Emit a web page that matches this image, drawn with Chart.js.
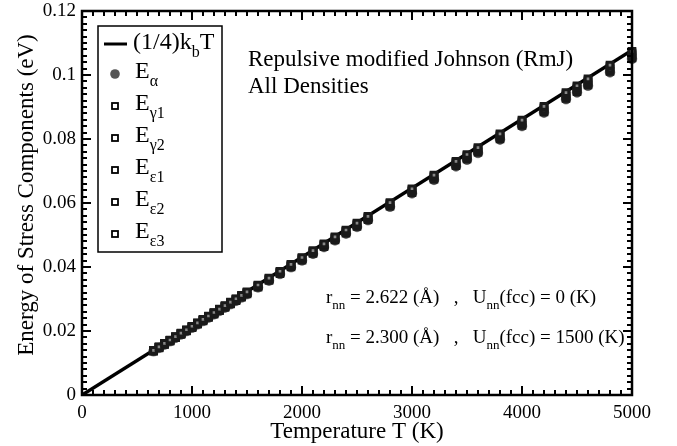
<!DOCTYPE html>
<html>
<head>
<meta charset="utf-8">
<script src="https://cdn.jsdelivr.net/npm/chart.js@4.4.1/dist/chart.umd.min.js"></script>
<style>
html,body{margin:0;padding:0;background:#fff;}
#wrap{width:677px;height:446px;position:relative;}
</style>
</head>
<body>
<div id="wrap"><canvas id="c" width="677" height="446"></canvas></div>
<script>
// ---- data ----
const temperatures = [650,700,750,800,850,900,950,1000,1050,1100,1150,1200,1250,1300,1350,1400,1450,1500,1600,1700,1800,1900,2000,2100,2200,2300,2400,2500,2600,2800,3000,3200,3400,3500,3600,3800,4000,4200,4400,4500,4600,4800,5000];
const lineT = [0, 5000];
const lineE = [0, 0.10772];
const eAlpha = [0.01365,0.01470,0.01575,0.01680,0.01785,0.01890,0.01995,0.02100,0.02205,0.02311,0.02416,0.02521,0.02626,0.02731,0.02836,0.02941,0.03046,0.03151,0.03361,0.03571,0.03781,0.03991,0.04201,0.04411,0.04621,0.04831,0.05041,0.05251,0.05461,0.05881,0.06301,0.06722,0.07142,0.07352,0.07562,0.07982,0.08402,0.08822,0.09242,0.09452,0.09662,0.10082,0.10502];
const eGamma1 = [0.01396,0.01503,0.01611,0.01718,0.01826,0.01933,0.02040,0.02148,0.02255,0.02363,0.02470,0.02578,0.02685,0.02792,0.02900,0.03007,0.03114,0.03222,0.03437,0.03651,0.03866,0.04081,0.04296,0.04510,0.04725,0.04940,0.05155,0.05370,0.05584,0.06014,0.06444,0.06873,0.07303,0.07517,0.07732,0.08162,0.08591,0.09021,0.09450,0.09665,0.09880,0.10310,0.10739];
const eGamma2 = [0.01391,0.01497,0.01604,0.01711,0.01818,0.01925,0.02032,0.02139,0.02246,0.02353,0.02460,0.02567,0.02674,0.02781,0.02888,0.02995,0.03102,0.03209,0.03423,0.03637,0.03851,0.04065,0.04279,0.04492,0.04706,0.04920,0.05134,0.05348,0.05562,0.05990,0.06418,0.06846,0.07273,0.07487,0.07701,0.08129,0.08557,0.08985,0.09413,0.09627,0.09841,0.10268,0.10696];
const eEps1 = [0.01379,0.01485,0.01591,0.01698,0.01804,0.01910,0.02016,0.02122,0.02228,0.02334,0.02440,0.02546,0.02653,0.02759,0.02865,0.02971,0.03077,0.03183,0.03395,0.03607,0.03820,0.04032,0.04244,0.04456,0.04668,0.04881,0.05093,0.05305,0.05517,0.05942,0.06366,0.06790,0.07215,0.07427,0.07639,0.08064,0.08488,0.08912,0.09337,0.09549,0.09761,0.10186,0.10610];
const eEps2 = [0.01369,0.01475,0.01580,0.01686,0.01791,0.01896,0.02002,0.02107,0.02212,0.02318,0.02423,0.02528,0.02634,0.02739,0.02844,0.02950,0.03055,0.03160,0.03371,0.03582,0.03792,0.04003,0.04214,0.04425,0.04635,0.04846,0.05057,0.05267,0.05478,0.05899,0.06321,0.06742,0.07164,0.07374,0.07585,0.08006,0.08428,0.08849,0.09271,0.09481,0.09692,0.10113,0.10535];
const eEps3 = [0.01385,0.01491,0.01598,0.01705,0.01811,0.01918,0.02024,0.02131,0.02237,0.02344,0.02450,0.02557,0.02663,0.02770,0.02876,0.02983,0.03089,0.03196,0.03409,0.03622,0.03835,0.04048,0.04261,0.04474,0.04687,0.04900,0.05114,0.05327,0.05540,0.05966,0.06392,0.06818,0.07244,0.07457,0.07670,0.08096,0.08522,0.08949,0.09375,0.09588,0.09801,0.10227,0.10653];
const xTicks = [0,1000,2000,3000,4000,5000];
const yTicks = [0,0.02,0.04,0.06,0.08,0.1,0.12];
const xTickLabels = ['0','1000','2000','3000','4000','5000'];
const yTickLabels = ['0','0.02','0.04','0.06','0.08','0.1','0.12'];

const FONT = '"Liberation Serif", "Times New Roman", serif';
function pts(xs, ys){ return xs.map((x,i)=>({x:x,y:ys[i]})); }

// Inward ticks on all four sides + frame
const frameTicks = {
  id:'frameTicks',
  afterDatasetsDraw(chart){
    const {ctx, chartArea:a, scales:{x,y}} = chart;
    ctx.save();
    ctx.strokeStyle='#000';
    ctx.lineWidth=2;
    ctx.beginPath();
    for(let v=0; v<=5000; v+=100){
      const px=Math.round(x.getPixelForValue(v));
      const major = v%1000===0;
      const L = major?9:5;
      ctx.moveTo(px,a.bottom); ctx.lineTo(px,a.bottom-L);
      ctx.moveTo(px,a.top); ctx.lineTo(px,a.top+L);
    }
    for(let k=0;k<=60;k++){
      const v=k*0.002;
      const py=Math.round(y.getPixelForValue(v));
      const major = k%10===0;
      const L = major?9:5;
      ctx.moveTo(a.left,py); ctx.lineTo(a.left+L,py);
      ctx.moveTo(a.right,py); ctx.lineTo(a.right-L,py);
    }
    ctx.stroke();
    ctx.lineWidth=2.5;
    ctx.strokeRect(a.left,a.top,a.right-a.left,a.bottom-a.top);
    ctx.restore();
  }
};

function drawSub(ctx, x, yb, main, sub, after, size){
  ctx.font = size+'px '+FONT;
  ctx.fillText(main, x, yb);
  let w = ctx.measureText(main).width;
  ctx.font = Math.round(size*0.68)+'px '+FONT;
  ctx.fillText(sub, x+w, yb+Math.round(size*0.32));
  let w2 = ctx.measureText(sub).width;
  let end = x+w+w2;
  if(after){
    ctx.font = size+'px '+FONT;
    ctx.fillText(after, end, yb);
    end += ctx.measureText(after).width;
  }
  return end;
}

const legendNotes = {
  id:'legendNotes',
  afterDraw(chart){
    const ctx = chart.ctx;
    const a = chart.chartArea;
    ctx.save();
    ctx.fillStyle='#000';
    ctx.textBaseline='alphabetic';
    ctx.textAlign='left';
    // legend box
    ctx.strokeStyle='#000'; ctx.lineWidth=1.5;
    ctx.strokeRect(98,26,124,226);
    // line entry
    ctx.lineWidth=3;
    ctx.beginPath(); ctx.moveTo(104,44); ctx.lineTo(127,44); ctx.stroke();
    drawSub(ctx,133,49,'(1/4)k','b','T',24);
    const names = [['E','\u03b1'],['E','\u03b31'],['E','\u03b32'],['E','\u03b51'],['E','\u03b52'],['E','\u03b53']];
    for(let i=0;i<6;i++){
      const yb = 78 + i*32;
      const cy = yb - 4;
      if(i===0){
        ctx.fillStyle='#555';
        ctx.beginPath(); ctx.arc(115,cy,4.8,0,Math.PI*2); ctx.fill();
      } else {
        ctx.fillStyle='#fff'; ctx.strokeStyle='#000'; ctx.lineWidth=1.8;
        ctx.fillRect(112,cy-3,6,6); ctx.strokeRect(112,cy-3,6,6);
      }
      ctx.fillStyle='#000';
      drawSub(ctx,135,yb,names[i][0],names[i][1],'',24);
    }
    // annotations
    ctx.font='23px '+FONT;
    ctx.fillText('Repulsive modified Johnson (RmJ)',248,66);
    ctx.fillText('All Densities',248,93);
    const s=19;
    let e = drawSub(ctx,326,303,'r','nn',' = 2.622 (\u00c5)   ,   ',s);
    drawSub(ctx,e,303,'U','nn','(fcc) = 0 (K)',s);
    e = drawSub(ctx,326,343,'r','nn',' = 2.300 (\u00c5)   ,   ',s);
    drawSub(ctx,e,343,'U','nn','(fcc) = 1500 (K)',s);
    // y axis title
    ctx.save();
    ctx.translate(27, (a.top+a.bottom)/2 - 8);
    ctx.rotate(-Math.PI/2);
    ctx.textAlign='center'; ctx.textBaseline='middle';
    ctx.font='23px '+FONT;
    ctx.fillText('Energy of Stress Components (eV)',0,0);
    ctx.restore();
    ctx.restore();
  }
};

function sq(ds){ return Object.assign({type:'scatter', pointStyle:'rect', pointRadius:4, pointBackgroundColor:'#888', pointBorderColor:'#1a1a1a', pointBorderWidth:3, showLine:false, clip:false, order:1}, ds); }

new Chart(document.getElementById('c'), {
  type:'scatter',
  data:{
    datasets:[
      {label:'(1/4)kbT', type:'line', data:pts(lineT,lineE), borderColor:'#000', borderWidth:3.5, pointRadius:0, fill:false, order:10},
      {label:'Ealpha', type:'scatter', data:pts(temperatures,eAlpha), pointStyle:'circle', pointRadius:4.8, pointBackgroundColor:'#444', pointBorderColor:'#333', pointBorderWidth:0.5, clip:false, order:2},
      sq({label:'Eg1', data:pts(temperatures,eGamma1)}),
      sq({label:'Eg2', data:pts(temperatures,eGamma2)}),
      sq({label:'Ee1', data:pts(temperatures,eEps1)}),
      sq({label:'Ee2', data:pts(temperatures,eEps2)}),
      sq({label:'Ee3', data:pts(temperatures,eEps3)})
    ]
  },
  options:{
    responsive:false, animation:false,
    layout:{padding:{top:11,right:45,left:0,bottom:0}},
    plugins:{legend:{display:false}, tooltip:{enabled:false}},
    scales:{
      x:{type:'linear', min:0, max:5000,
        afterBuildTicks(s){ s.ticks = xTicks.map(v=>({value:v})); },
        afterFit(s){ s.height = 51; s.paddingLeft = 0; s.paddingRight = 0; },
        grid:{display:false, drawTicks:false},
        border:{display:false},
        ticks:{padding:7, color:'#000', font:{family:FONT,size:19}, maxRotation:0, callback:(v)=>xTickLabels[xTicks.indexOf(v)]},
        title:{display:true, text:'Temperature T (K)', color:'#000', font:{family:FONT,size:23}, padding:{top:-3,bottom:0}}
      },
      y:{type:'linear', min:0, max:0.12,
        afterBuildTicks(s){ s.ticks = yTicks.map(v=>({value:v})); },
        afterFit(s){ s.width = 82; s.paddingTop = 0; s.paddingBottom = 0; },
        grid:{display:false, drawTicks:false},
        border:{display:false},
        ticks:{padding:6, color:'#000', font:{family:FONT,size:19}, callback:(v)=>{const i=yTicks.findIndex(t=>Math.abs(t-v)<1e-9); return i>=0?yTickLabels[i]:'';}},
        title:{display:false}
      }
    }
  },
  plugins:[frameTicks, legendNotes]
});
</script>
</body>
</html>
